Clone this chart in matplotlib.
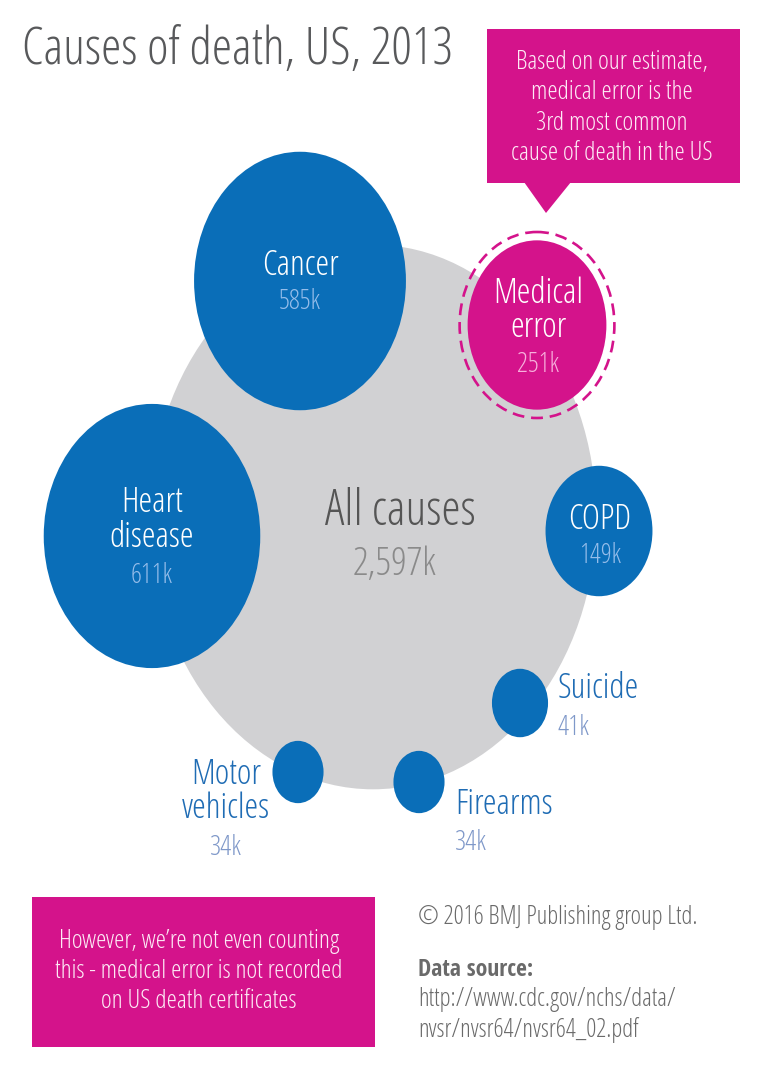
import matplotlib
matplotlib.use("Agg")
import matplotlib.pyplot as plt
from matplotlib.patches import Ellipse, Rectangle, Polygon
import numpy as np

# data (thousands of deaths, US 2013)
causes = ["Heart\ndisease", "Cancer", "Medical\nerror", "COPD", "Suicide", "Firearms", "Motor\nvehicles"]
deaths_k = [611, 585, 251, 149, 41, 34, 34]
all_causes_label = "All causes"
all_causes_k = 2597

# layout (pixel coords of the bubble centres)
centres = [(152, 536), (300, 281), (537, 325), (599, 531), (520, 703), (419, 782), (298, 772)]
all_centre = (373, 517)
SCALE = 4.38      # px per sqrt(k deaths)
SQUASH = 1.22     # the picture is stretched vertically

BLUE = "#0a6eb8"
PINK = "#d4138b"
GREY = "#d1d1d3"
LIGHT_BLUE = "#95bdea"
LABEL_BLUE = "#1f6cb4"
VALUE_BLUE = "#7f98c9"
K = "k"

plt.rcParams["font.family"] = ["Open Sans", "DejaVu Sans"]
plt.rcParams["font.stretch"] = "condensed"
plt.rcParams["font.weight"] = 300

W, H = 762, 1091
fig = plt.figure(figsize=(W / 100, H / 100), dpi=100)
ax = fig.add_axes([0, 0, 1, 1])
ax.set_xlim(0, W)
ax.set_ylim(H, 0)
ax.axis("off")


def bubble(xy, value, color, z):
    r = SCALE * np.sqrt(value)
    e = Ellipse(xy, 2 * r, 2 * r * SQUASH, facecolor=color, edgecolor="none", zorder=z)
    ax.add_patch(e)
    return r


bubble(all_centre, all_causes_k, GREY, 1)
ax.text(all_centre[0] + 27, 512, all_causes_label, ha="center", va="center",
        fontsize=35, color="#555555", zorder=5)
ax.text(all_centre[0] + 22, 565, f"{all_causes_k:,}" + K, ha="center", va="center",
        fontsize=28, color="#8a8a8a", zorder=5)

for name, val, xy in zip(causes, deaths_k, centres):
    color = PINK if name.startswith("Medical") else BLUE
    r = bubble(xy, val, color, 3)
    if name.startswith("Medical"):
        ring = Ellipse(xy, 2 * r + 16, (2 * r + 16) * SQUASH * 0.985, fill=False,
                       edgecolor=PINK, linewidth=1.9, linestyle=(0, (4.5, 2.6)), zorder=3)
        ax.add_patch(ring)

# labels inside the big bubbles
inside = {
    "Heart\ndisease": (152, [(503, "Heart"), (538, "disease")]),
    "Cancer": (300, [(266, "Cancer")]),
    "Medical\nerror": (538, [(294, "Medical"), (328, "error")]),
    "COPD": (600, [(520, "COPD")]),
}
value_y = {"Heart\ndisease": 576, "Cancer": 302, "Medical\nerror": 365, "COPD": 556}
for name, val in zip(causes, deaths_k):
    if name not in inside:
        continue
    x, lines = inside[name]
    for y, t in lines:
        ax.text(x, y, t, ha="center", va="center", fontsize=25, color="white", zorder=6)
    vcol = "#f7b0dc" if name.startswith("Medical") else LIGHT_BLUE
    ax.text(x, value_y[name], f"{val}" + K, ha="center", va="center", fontsize=19.5,
            color=vcol, zorder=6)

# labels beside the small bubbles
outside = {
    "Suicide": (558, "left", [689], 728),
    "Firearms": (455, "left", [805], 843),
    "Motor\nvehicles": (226, "center", [775, 809], 848),
}
for name, val in zip(causes, deaths_k):
    if name not in outside:
        continue
    x, ha, ys, vy = outside[name]
    for y, t in zip(ys, name.split("\n")):
        ax.text(x, y, t, ha=ha, va="center", fontsize=25, color=LABEL_BLUE, zorder=6)
    ax.text(x, vy, f"{val}" + K, ha=ha, va="center", fontsize=20, color=VALUE_BLUE, zorder=6)

# title
ax.text(22, 50, "Causes of death, US, 2013", ha="left", va="center",
        fontsize=37, color="#58595b")

# top call-out
ax.add_patch(Rectangle((487, 29), 253, 154, facecolor=PINK, edgecolor="none"))
ax.add_patch(Polygon([(524, 182), (571, 182), (546, 213)], closed=True,
                     facecolor=PINK, edgecolor="none"))
callout = ["Based on our estimate,", "medical error is the",
           "3rd most common", "cause of death in the US"]
for i, t in enumerate(callout):
    ax.text(612, 62 + 30.5 * i, t, ha="center", va="center", fontsize=18.5, color="#fdeaf5")

# bottom call-out
ax.add_patch(Rectangle((32, 897), 343, 150, facecolor=PINK, edgecolor="none"))
note = ["However, we\u2019re not even counting",
        "this - medical error is not recorded",
        "on US death certificates"]
for i, t in enumerate(note):
    ax.text(199, 941 + 30 * i, t, ha="center", va="center", fontsize=18.5, color="#fdeaf5")

# credits
ax.text(418, 918, "\u00a9 2016 BMJ Publishing group Ltd.", ha="left", va="center",
        fontsize=18, color="#6a6a6a")
ax.text(418, 970, "Data source:", ha="left", va="center", fontsize=17,
        family=["Open Sans Condensed", "DejaVu Sans"], fontweight="bold", color="#6a6a6a")
ax.text(418, 1000, "http://www.cdc.gov/nchs/data/", ha="left", va="center",
        fontsize=18, color="#6a6a6a")
ax.text(418, 1030, "nvsr/nvsr64/nvsr64_02.pdf", ha="left", va="center",
        fontsize=18, color="#6a6a6a")

fig.savefig("out.png", dpi=100, facecolor="white")
